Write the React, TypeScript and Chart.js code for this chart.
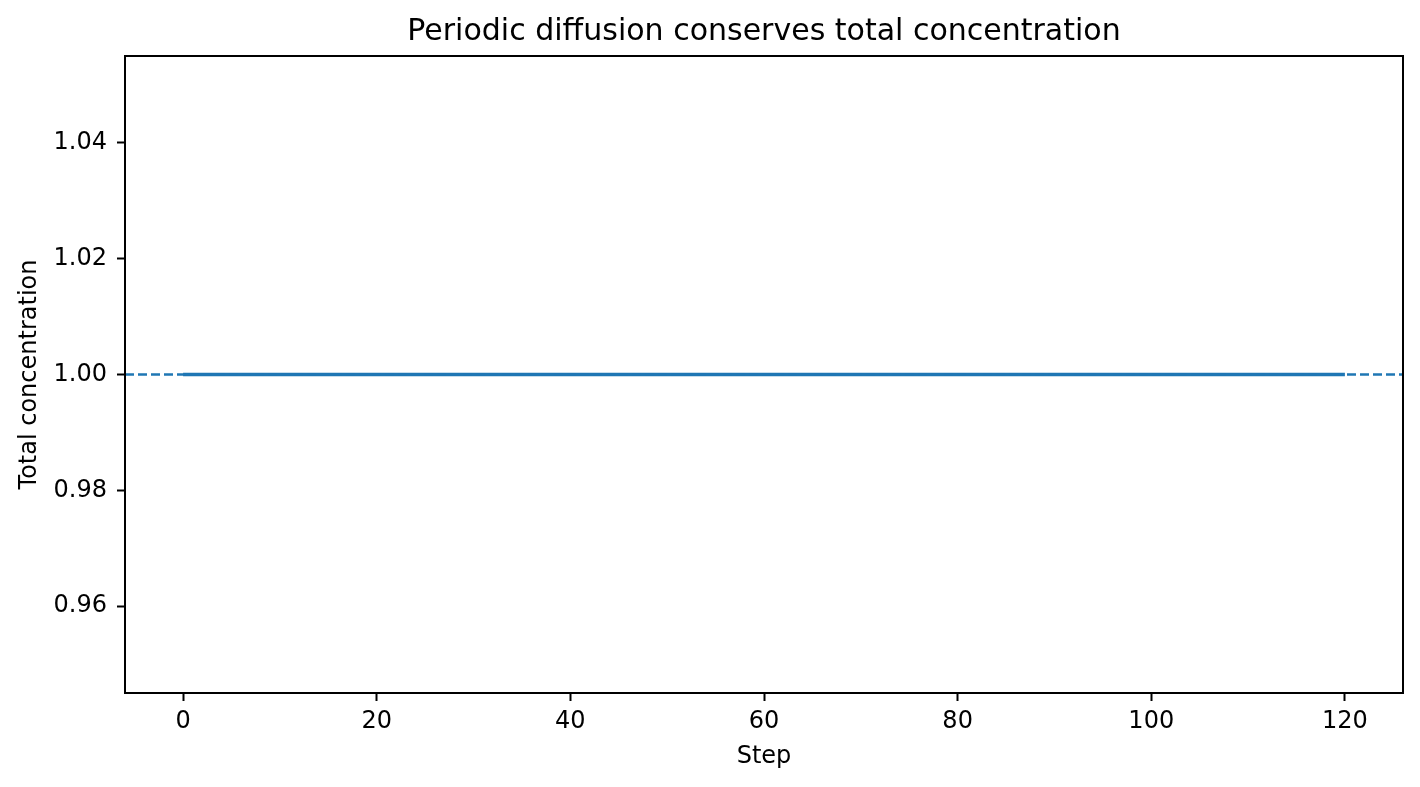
import React, { useEffect, useRef } from "react";
import { Chart, registerables } from "chart.js";

Chart.register(...registerables);

const TITLE = "Periodic diffusion conserves total concentration";
const X_LABEL = "Step";
const Y_LABEL = "Total concentration";
const STEPS = [0, 10, 20, 30, 40, 50, 60, 70, 80, 90, 100, 110, 120];
const TOTALS = [1.0, 1.0, 1.0, 1.0, 1.0, 1.0, 1.0, 1.0, 1.0, 1.0, 1.0, 1.0, 1.0];
const REFERENCE_TOTAL = 1.0;
const X_TICKS = [0, 20, 40, 60, 80, 100, 120];
const Y_TICKS = [0.96, 0.98, 1.0, 1.02, 1.04];
const X_RANGE = [-6, 126];
const Y_RANGE = [0.945, 1.055];

const BLUE = "#1f77b4";
const FONT = "'DejaVu Sans', 'Liberation Sans', sans-serif";

export default function App() {
  const ref = useRef<HTMLCanvasElement | null>(null);

  useEffect(() => {
    if (!ref.current) return;

    const framePlugin = {
      id: "frameAndRef",
      afterDatasetsDraw(chart: any) {
        const { ctx, chartArea, scales } = chart;
        const y = scales.y.getPixelForValue(REFERENCE_TOTAL);
        ctx.save();
        ctx.beginPath();
        ctx.rect(chartArea.left, chartArea.top, chartArea.right - chartArea.left, chartArea.bottom - chartArea.top);
        ctx.clip();
        ctx.strokeStyle = BLUE;
        ctx.lineWidth = 2.4;
        ctx.setLineDash([9, 4]);
        ctx.beginPath();
        ctx.moveTo(chartArea.left, y);
        ctx.lineTo(chartArea.right, y);
        ctx.stroke();
        ctx.restore();

        ctx.save();
        ctx.strokeStyle = "#000";
        ctx.lineWidth = 2;
        ctx.strokeRect(chartArea.left, chartArea.top, chartArea.right - chartArea.left, chartArea.bottom - chartArea.top);
        ctx.restore();

        ctx.save();
        ctx.fillStyle = "#000";
        ctx.font = `30px ${FONT}`;
        ctx.textAlign = "center";
        ctx.textBaseline = "alphabetic";
        ctx.fillText(TITLE, (chartArea.left + chartArea.right) / 2, chartArea.top - 16);
        ctx.restore();
      },
    };

    const chart = new Chart(ref.current, {
      type: "line",
      data: {
        datasets: [
          {
            data: STEPS.map((s, i) => ({ x: s, y: TOTALS[i] })),
            borderColor: BLUE,
            borderWidth: 3.6,
            pointRadius: 0,
            fill: false,
            tension: 0,
          },
        ],
      },
      options: {
        animation: false,
        responsive: false,
        devicePixelRatio: 1,
        layout: { padding: { left: 0, right: 17, top: 56, bottom: 0 } },
        plugins: {
          legend: { display: false },
          tooltip: { enabled: false },
          title: { display: false },
        },
        scales: {
          x: {
            type: "linear",
            min: X_RANGE[0],
            max: X_RANGE[1],
            afterBuildTicks: (scale: any) => {
              scale.ticks = X_TICKS.map((v) => ({ value: v }));
            },
            afterFit: (scale: any) => {
              scale.height = 94;
            },
            ticks: {
              color: "#000",
              font: { family: FONT, size: 24 },
              padding: 6.6,
              maxRotation: 0,
              autoSkip: false,
              callback: (v: any) => String(v),
            },
            grid: {
              display: true,
              drawOnChartArea: false,
              drawTicks: true,
              tickLength: 8,
              tickWidth: 2,
              tickColor: "#000",
            },
            border: { display: false },
            title: {
              display: true,
              text: X_LABEL,
              color: "#000",
              font: { family: FONT, size: 24, lineHeight: 1.2 },
              padding: { top: 0, bottom: 15.6 },
            },
          },
          y: {
            type: "linear",
            min: Y_RANGE[0],
            max: Y_RANGE[1],
            afterBuildTicks: (scale: any) => {
              scale.ticks = Y_TICKS.map((v) => ({ value: v }));
            },
            afterFit: (scale: any) => {
              scale.width = 125;
            },
            ticks: {
              color: "#000",
              font: { family: FONT, size: 24 },
              padding: 10,
              autoSkip: false,
              callback: (v: any) => Number(v).toFixed(2),
            },
            grid: {
              display: true,
              drawOnChartArea: false,
              drawTicks: true,
              tickLength: 8,
              tickWidth: 2,
              tickColor: "#000",
            },
            border: { display: false },
            title: {
              display: true,
              text: Y_LABEL,
              color: "#000",
              font: { family: FONT, size: 24, lineHeight: 1.2 },
              padding: { top: 15.6, bottom: 0 },
            },
          },
        },
      },
      plugins: [framePlugin],
    });

    return () => chart.destroy();
  }, []);

  return (
    <div style={{ position: "absolute", left: 0, top: 0, width: 1420, height: 787, background: "#fff" }}>
      <canvas ref={ref} width={1420} height={787} style={{ width: 1420, height: 787, display: "block" }} />
    </div>
  );
}
